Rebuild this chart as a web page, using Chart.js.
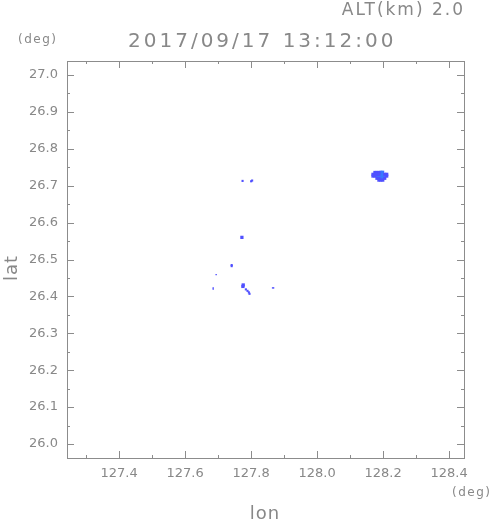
<!DOCTYPE html>
<html>
<head>
<meta charset="utf-8">
<script src="https://cdn.jsdelivr.net/npm/chart.js@4/dist/chart.umd.min.js"></script>
<style>
html,body{margin:0;padding:0;background:#fff;}
#wrap{width:491px;height:521px;position:relative;}
</style>
</head>
<body>
<div id="wrap"><canvas id="c" width="491" height="521"></canvas></div>
<script>
// ---- axis ticks ----
const lonTicks = [127.4, 127.6, 127.8, 128.0, 128.2, 128.4];
const lonMinor = [127.3, 127.5, 127.7, 127.9, 128.1, 128.3];
const latTicks = [26.0, 26.1, 26.2, 26.3, 26.4, 26.5, 26.6, 26.7, 26.8, 26.9, 27.0];
const latMinor = [26.05, 26.15, 26.25, 26.35, 26.45, 26.55, 26.65, 26.75, 26.85, 26.95];

// ---- isolated echo cells (lon, lat) ----
const smallLon = [127.694, 127.685, 127.685, 127.865, 127.868];
const smallLat = [26.459, 26.423, 26.420, 26.423, 26.423];
const midLon = [127.774, 127.741, 127.741, 127.800, 127.803, 127.784, 127.789, 127.793, 127.795];
const midLat = [26.713, 26.482, 26.485, 26.712, 26.714, 26.419, 26.415, 26.411, 26.407];
const bigLon = [127.772, 127.775, 127.776];
const bigLat = [26.560, 26.427, 26.431];

// ---- main cluster near 128.19E, 26.73N ----
const clusterLon = [128.175, 128.181, 128.187,
  128.169, 128.175, 128.181, 128.187, 128.205, 128.211,
  128.169, 128.175, 128.211,
  128.181, 128.187, 128.205,
  128.187, 128.193, 128.199];
const clusterLat = [26.736, 26.736, 26.736,
  26.731, 26.731, 26.731, 26.731, 26.731, 26.731,
  26.726, 26.726, 26.726,
  26.720, 26.720, 26.720,
  26.715, 26.715, 26.715];
const coreLon = [128.193, 128.199, 128.193, 128.199, 128.181, 128.187, 128.193, 128.199, 128.205, 128.193, 128.199];
const coreLat = [26.737, 26.737, 26.731, 26.731, 26.726, 26.726, 26.726, 26.726, 26.726, 26.720, 26.720];

const xMin = 127.242, xMax = 128.445, yMin = 25.962, yMax = 27.038;

function pts(xs, ys){ return xs.map((x,i)=>({x:x, y:ys[i]})); }

const GRAY = '#888888';
const FONT = '"DejaVu Sans", sans-serif';

const frameAndText = {
  id: 'frameAndText',
  afterDraw(chart){
    const ctx = chart.ctx;
    const a = chart.chartArea;
    const xs = chart.scales.x, ys = chart.scales.y;
    ctx.save();
    ctx.strokeStyle = '#8c8c8c';
    ctx.lineWidth = 1;
    ctx.strokeRect(Math.round(a.left)+0.5, Math.round(a.top)+0.5, Math.round(a.right-a.left), Math.round(a.bottom-a.top));
    ctx.beginPath();
    const tx = (v, len) => {
      const p = Math.round(xs.getPixelForValue(v)) + 0.5;
      ctx.moveTo(p, a.bottom); ctx.lineTo(p, a.bottom - len);
      ctx.moveTo(p, a.top); ctx.lineTo(p, a.top + len);
    };
    const ty = (v, len) => {
      const p = Math.round(ys.getPixelForValue(v)) + 0.5;
      ctx.moveTo(a.left, p); ctx.lineTo(a.left + len, p);
      ctx.moveTo(a.right, p); ctx.lineTo(a.right - len, p);
    };
    lonTicks.forEach(v => tx(v, 7));
    lonMinor.forEach(v => tx(v, 3));
    latTicks.forEach(v => ty(v, 7));
    latMinor.forEach(v => ty(v, 3));
    ctx.stroke();

    ctx.fillStyle = GRAY;
    ctx.textBaseline = 'alphabetic';
    const txt = (s, x, y, size, align, spacing) => {
      ctx.font = size + 'px ' + FONT;
      ctx.letterSpacing = (spacing || 0) + 'px';
      ctx.textAlign = align;
      ctx.fillText(s, x, y);
    };
    txt('ALT(km) 2.0', 465, 15, 17, 'right', 2);
    txt('2017/09/17 13:12:00', 128, 47, 20, 'left', 3);
    txt('(deg)', 18, 43, 12, 'left', 1.5);
    txt('(deg)', 452, 496, 12, 'left', 1.5);
    txt('lon', 265, 519, 18, 'center', 1);
    ctx.save();
    ctx.translate(17, 268);
    ctx.rotate(-Math.PI/2);
    txt('lat', 0, 0, 18, 'center', 1);
    ctx.restore();
    ctx.restore();
  }
};

const BLUE = 'rgb(80,80,255)';
const LIGHT = 'rgb(58,120,255)';

new Chart(document.getElementById('c'), {
  type: 'scatter',
  data: {
    datasets: [
      {data: pts(smallLon, smallLat), pointStyle: 'rect', pointRadius: 1.0, backgroundColor: BLUE, borderWidth: 0},
      {data: pts(midLon, midLat), pointStyle: 'rect', pointRadius: 1.5, backgroundColor: BLUE, borderWidth: 0},
      {data: pts(bigLon, bigLat), pointStyle: 'rect', pointRadius: 2.3, backgroundColor: BLUE, borderWidth: 0},
      {data: pts(clusterLon, clusterLat), pointStyle: 'rect', pointRadius: 2.2, backgroundColor: BLUE, borderWidth: 0},
      {data: pts(coreLon, coreLat), pointStyle: 'rect', pointRadius: 2.0, backgroundColor: LIGHT, borderWidth: 0}
    ]
  },
  options: {
    responsive: false,
    animation: false,
    events: [],
    layout: {padding: {left: 0, top: 61, right: 27, bottom: 33}},
    plugins: {legend: {display: false}, tooltip: {enabled: false}, title: {display: false}},
    scales: {
      x: {
        type: 'linear', min: xMin, max: xMax,
        grid: {display: false, drawTicks: false},
        border: {display: false},
        afterFit(s){ s.height = 30; },
        afterBuildTicks(s){ s.ticks = lonTicks.map(v => ({value: v})); },
        ticks: {
          color: GRAY, padding: 8, maxRotation: 0, autoSkip: false,
          font: {family: FONT, size: 13},
          callback: v => Number(v).toFixed(1)
        }
      },
      y: {
        type: 'linear', min: yMin, max: yMax,
        grid: {display: false, drawTicks: false},
        border: {display: false},
        afterFit(s){ s.width = 67; },
        afterBuildTicks(s){ s.ticks = latTicks.map(v => ({value: v})); },
        ticks: {
          color: GRAY, padding: 9, autoSkip: false,
          font: {family: FONT, size: 13},
          callback: v => Number(v).toFixed(1)
        }
      }
    }
  },
  plugins: [frameAndText]
});
</script>
</body>
</html>
